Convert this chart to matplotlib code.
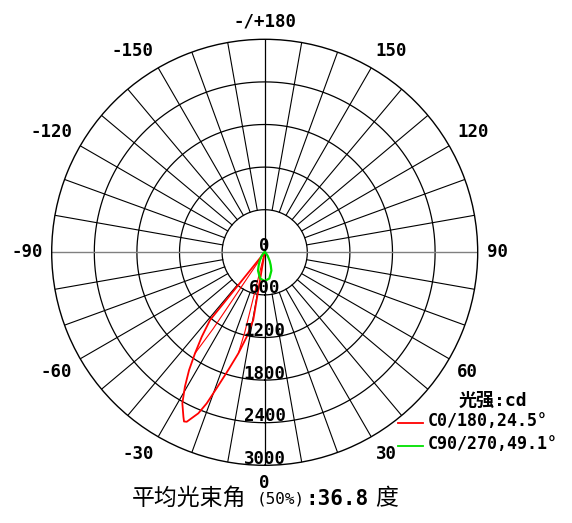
import matplotlib
matplotlib.use('Agg')
import matplotlib.pyplot as plt
import numpy as np
from matplotlib.lines import Line2D
from matplotlib import transforms

# ---------------- data ----------------
ring_values = [600, 1200, 1800, 2400, 3000]
ring_labels = ['0', '600', '1200', '1800', '2400', '3000']
angle_ticks = [0, 30, 60, 90, 120, 150, 180, -150, -120, -90, -60, -30]
angle_labels = ['0', '30', '60', '90', '120', '150', '-/+180',
                '-150', '-120', '-90', '-60', '-30']

# C0/180 main lobe (degrees, cd)
red_angles = [0, -9.6, -12.0, -14.6, -17.2, -19.3, -21.0, -22.4, -24.7, -25.5,
              -26.3, -28.6, -30.7, -32.7, -34.6, -36.7, -38.9, -45]
red_values = [0, 967, 1215, 1470, 1735, 2005, 2279, 2453, 2627, 2640,
              2584, 2423, 2201, 1972, 1729, 1483, 1226, 0]
# secondary (thin) C0/180 traces near the centre
red2a_angles = [0, -14.0, -14.6]
red2a_values = [0, 1150, 1470]
red2b_angles = [-34.6, -34.0, -45]
red2b_values = [1729, 1300, 0]

# C90/270 lobe
green_angles = [-90, -70, -60, -50, -40, -30, -25, -20, -10, 0,
                10, 20, 25, 30, 40, 50, 60, 70, 90]
green_values = [0, 2, 8, 25, 65, 140, 200, 275, 375, 404,
                375, 275, 200, 140, 65, 25, 8, 2, 0]

legend_title = '光强:cd'
legend_labels = ['C0/180,24.5°', 'C90/270,49.1°']
series_colors = ['#ff0000', '#00e000']

# ---------------- figure ----------------
W, H = 572, 523
fig = plt.figure(figsize=(W / 100, H / 100), dpi=100)
fig.patch.set_facecolor('white')
cx, cy, R = 264.7, 252.3, 213.0
ax = fig.add_axes([(cx - R) / W, (H - cy - R) / H, 2 * R / W, 2 * R / H],
                  projection='polar')
ax.set_theta_zero_location('S')
ax.set_theta_direction(1)
ax.set_ylim(0, ring_values[-1])
ax.set_xticks([])
ax.set_yticks([])
ax.grid(False)
ax.spines['polar'].set_linewidth(1.0)
ax.spines['polar'].set_color('black')

mono = 'DejaVu Sans Mono'
fam_mix = ['DejaVu Sans Mono', 'Noto Sans CJK SC']

# rings
th = np.linspace(0, 2 * np.pi, 721)
for r in ring_values[:-1]:
    ax.plot(th, np.full_like(th, r), color='black', lw=0.9, zorder=1)

# spokes
for a in range(-170, 181, 10):
    if a % 90 == 0:
        continue
    ax.plot([np.deg2rad(a)] * 2, [ring_values[0], ring_values[-1]],
            color='black', lw=0.8, zorder=1)
# main axes
for a in (0, 180):
    ax.plot([np.deg2rad(a)] * 2, [0, ring_values[-1]], color='black', lw=0.9, zorder=1)
for a in (90, -90):
    ax.plot([np.deg2rad(a)] * 2, [0, ring_values[-1]], color='#808080', lw=1.0, zorder=1.5)

# radial labels
trans = transforms.offset_copy(ax.transData, fig=fig, x=0, y=6.5, units='dots')
ring_pos = [0] + ring_values
for r, lab in zip(ring_pos, ring_labels):
    ax.text(0, r, lab, transform=trans, ha='center', va='center',
            family=mono, fontsize=12.5, fontweight='bold', zorder=5, clip_on=False)

# angle labels
r_lab = 222 / R * ring_values[-1]
for a, lab in zip(angle_ticks, angle_labels):
    t = np.deg2rad(a)
    s, c = np.sin(t), np.cos(t)
    ha = 'left' if s > 0.1 else ('right' if s < -0.1 else 'center')
    va = 'top' if c > 0.1 else ('bottom' if c < -0.1 else 'center')
    ax.text(t, r_lab, lab, ha=ha, va=va, family=mono, fontsize=12.5,
            fontweight='bold', clip_on=False)

# curves
ax.plot(np.deg2rad(red2a_angles), red2a_values, color=series_colors[0], lw=0.8, zorder=3)
ax.plot(np.deg2rad(red2b_angles), red2b_values, color=series_colors[0], lw=0.8, zorder=3)
ax.plot(np.deg2rad(red_angles), red_values, color=series_colors[0], lw=1.3, zorder=3)
ax.plot(np.deg2rad(green_angles), green_values, color=series_colors[1], lw=1.6, zorder=3)

# legend (manual)
def fx(x):
    return x / W

def fy(y):
    return (H - y) / H

fig.text(fx(459), fy(401), legend_title, family=fam_mix, fontsize=13,
         fontweight='bold', ha='left', va='center')
for i, (lab, col) in enumerate(zip(legend_labels, series_colors)):
    yy = 423 + i * 22.7
    fig.add_artist(Line2D([fx(398), fx(423)], [fy(yy), fy(yy)], color=col, lw=1.3))
    fig.text(fx(428), fy(yy - 1.5), lab, family=mono, fontsize=12,
             fontweight='bold', ha='left', va='center')

# bottom title
base = fy(505)
fig.text(fx(132), base, '平均光束角', family=['Noto Sans CJK SC'], fontsize=16.5,
         ha='left', va='baseline')
fig.text(fx(257), base + 0.002, '(50%)', family=mono, fontsize=11.5,
         ha='left', va='baseline')
fig.text(fx(305), base, ':36.8', family=mono, fontsize=15, fontweight='bold',
         ha='left', va='baseline')
fig.text(fx(375), base, '度', family=['Noto Sans CJK SC'], fontsize=16.5,
         ha='left', va='baseline')

fig.savefig('out.png', dpi=100, facecolor='white')
